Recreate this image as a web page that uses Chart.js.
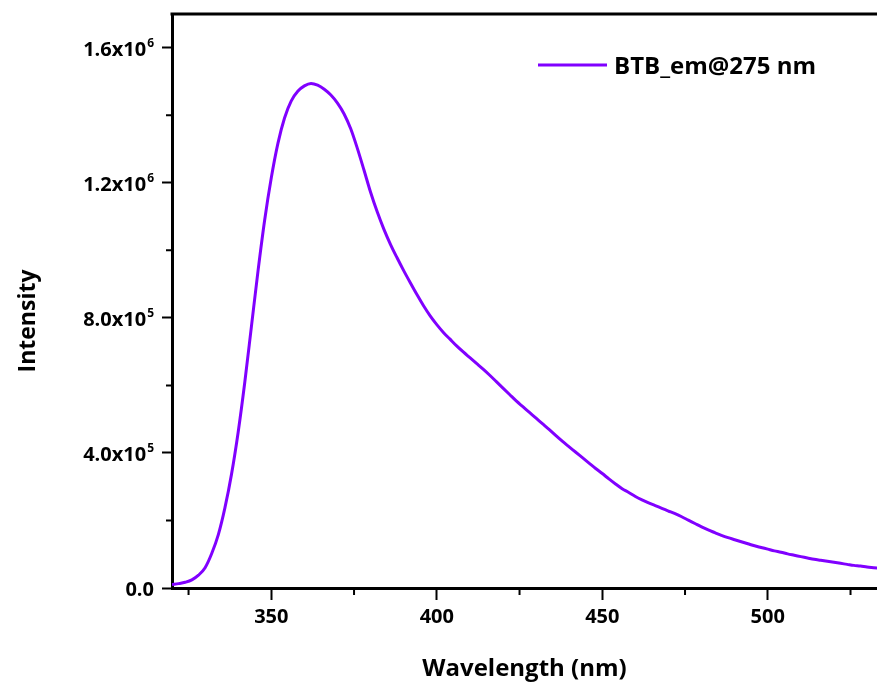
<!DOCTYPE html>
<html>
<head>
<meta charset="utf-8">
<script src="https://cdn.jsdelivr.net/npm/chart.js@4.4.0/dist/chart.umd.min.js"></script>
<style>
  body { margin: 0; background: #fff; }
</style>
</head>
<body>
<canvas id="myChart" width="877" height="686"></canvas>
<script>
// emission spectrum
const wavelengths = [
  320, 322, 324, 326, 328, 330, 332, 334, 336, 338,
  340, 342, 344, 346, 348, 350, 352, 354, 356, 358,
  360, 362, 364, 366, 368, 370, 372, 374, 376, 378,
  380, 382, 384, 386, 388, 390, 392, 394, 396, 398,
  400, 402, 404, 406, 408, 410, 412, 414, 416, 418,
  420, 422, 424, 426, 428, 430, 432, 434, 436, 438,
  440, 442, 444, 446, 448, 450, 452, 454, 456, 458,
  460, 462, 464, 466, 468, 470, 472, 474, 476, 478,
  480, 482, 484, 486, 488, 490, 492, 494, 496, 498,
  500, 502, 504, 506, 508, 510, 512, 514, 516, 518,
  520, 522, 524, 526, 528, 530, 532, 534
];
const intensities = [
  10000, 13000, 17000, 24000, 38000, 60000, 102000, 158000, 238000, 338000,
  462000, 610000, 775000, 940000, 1090000, 1215000, 1317000, 1392000, 1442000, 1471000,
  1487000, 1494000, 1489000, 1477000, 1460000, 1436000, 1404000, 1360000, 1302000, 1238000,
  1172000, 1114000, 1063000, 1018000, 978000, 940000, 904000, 869000, 836000, 806000,
  780000, 757000, 737000, 717000, 699000, 682000, 665000, 648000, 630000, 611000,
  592000, 573000, 554000, 537000, 520000, 503000, 486000, 469000, 451000, 434000,
  418000, 402000, 386000, 370000, 354000, 339000, 323000, 308000, 294000, 283000,
  271000, 261000, 252000, 244000, 236000, 228000, 220000, 211000, 201000, 191000,
  181000, 172000, 164000, 156000, 149000, 143000, 137000, 131000, 125000, 120000,
  115000, 110000, 106000, 101000, 97000, 93000, 89000, 85000, 82000, 79000,
  76000, 73000, 70000, 67000, 65000, 62000, 60000, 58000
];
const seriesName = 'BTB_em@275 nm';

const xTickValues = [350, 400, 450, 500];
const xMinorTicks = [325, 375, 425, 475, 525];
const yTickValues = [0, 400000, 800000, 1200000, 1600000];
const yTickBase = ['0.0', '4.0x10', '8.0x10', '1.2x10', '1.6x10'];
const yTickExp = ['', '5', '5', '6', '6'];
const yMinorTicks = [200000, 600000, 1000000, 1400000];

const lineColor = 'rgb(128, 0, 255)';
const fontFamily = '"Open Sans", "Liberation Sans", sans-serif';

// frame top, minor ticks, y labels with exponents, legend, y title
let decorations = {
  id: 'decorations',
  afterDraw(chart) {
    const { ctx, chartArea: area, scales: { x, y } } = chart;
    ctx.save();
    ctx.strokeStyle = '#000';
    ctx.fillStyle = '#000';

    ctx.lineWidth = 3;
    ctx.beginPath();
    ctx.moveTo(area.left - 1.5, area.top);
    ctx.lineTo(area.right, area.top);
    ctx.stroke();

    ctx.lineWidth = 2;
    ctx.beginPath();
    xMinorTicks.forEach(v => {
      const px = x.getPixelForValue(v);
      ctx.moveTo(px, area.bottom);
      ctx.lineTo(px, area.bottom + 7);
    });
    yMinorTicks.forEach(v => {
      const py = y.getPixelForValue(v);
      ctx.moveTo(area.left, py);
      ctx.lineTo(area.left - 6, py);
    });
    ctx.stroke();

    const right = 154;
    ctx.textAlign = 'right';
    ctx.textBaseline = 'alphabetic';
    yTickValues.forEach((v, i) => {
      const py = y.getPixelForValue(v);
      let expW = 0;
      if (yTickExp[i]) {
        ctx.font = 'bold 12px ' + fontFamily;
        expW = ctx.measureText(yTickExp[i]).width + 1;
        ctx.fillText(yTickExp[i], right, py - 1);
      }
      ctx.font = 'bold 20px ' + fontFamily;
      ctx.fillText(yTickBase[i], right - expW, py + 8);
    });

    // legend
    ctx.strokeStyle = lineColor;
    ctx.lineWidth = 3;
    ctx.beginPath();
    ctx.moveTo(538, 65);
    ctx.lineTo(607, 65);
    ctx.stroke();
    ctx.textAlign = 'left';
    ctx.textBaseline = 'middle';
    ctx.font = 'bold 24px ' + fontFamily;
    ctx.fillText(seriesName, 614, 67);

    // y title
    ctx.translate(28, 321);
    ctx.rotate(-Math.PI / 2);
    ctx.textAlign = 'center';
    ctx.font = 'bold 23px ' + fontFamily;
    ctx.fillText('Intensity', 0, 0);
    ctx.restore();
  }
};

let ctx = document.getElementById('myChart').getContext('2d');
let chart = new Chart(ctx, {
  type: 'line',
  data: {
    datasets: [{
      label: seriesName,
      data: wavelengths.map((w, i) => ({ x: w, y: intensities[i] })),
      borderColor: lineColor,
      backgroundColor: lineColor,
      borderWidth: 3,
      pointRadius: 0,
      cubicInterpolationMode: 'monotone',
      fill: false
    }]
  },
  options: {
    responsive: false,
    animation: false,
    layout: { padding: { top: 14, left: 0, right: 0, bottom: 0 } },
    plugins: {
      legend: { display: false },
      tooltip: { enabled: false }
    },
    scales: {
      x: {
        type: 'linear',
        min: 320,
        max: 533,
        afterBuildTicks: s => { s.ticks = xTickValues.map(v => ({ value: v })); },
        afterFit: s => { s.height = 98; },
        border: { color: '#000', width: 3 },
        grid: { drawOnChartArea: false, tickLength: 12, tickWidth: 2, tickColor: '#000' },
        ticks: {
          color: '#000',
          padding: 5,
          font: { family: fontFamily, size: 20, weight: 'bold' }
        },
        title: {
          display: true,
          text: 'Wavelength (nm)',
          color: '#000',
          padding: { top: 0, bottom: 2 },
          font: { family: fontFamily, size: 24, weight: 'bold' }
        }
      },
      y: {
        min: 0,
        max: 1700000,
        afterBuildTicks: s => { s.ticks = yTickValues.map(v => ({ value: v })); },
        afterFit: s => { s.width = 172; },
        border: { color: '#000', width: 3 },
        grid: { drawOnChartArea: false, tickLength: 10, tickWidth: 2, tickColor: '#000' },
        ticks: { display: false }
      }
    }
  },
  plugins: [decorations]
});
</script>
</body>
</html>
